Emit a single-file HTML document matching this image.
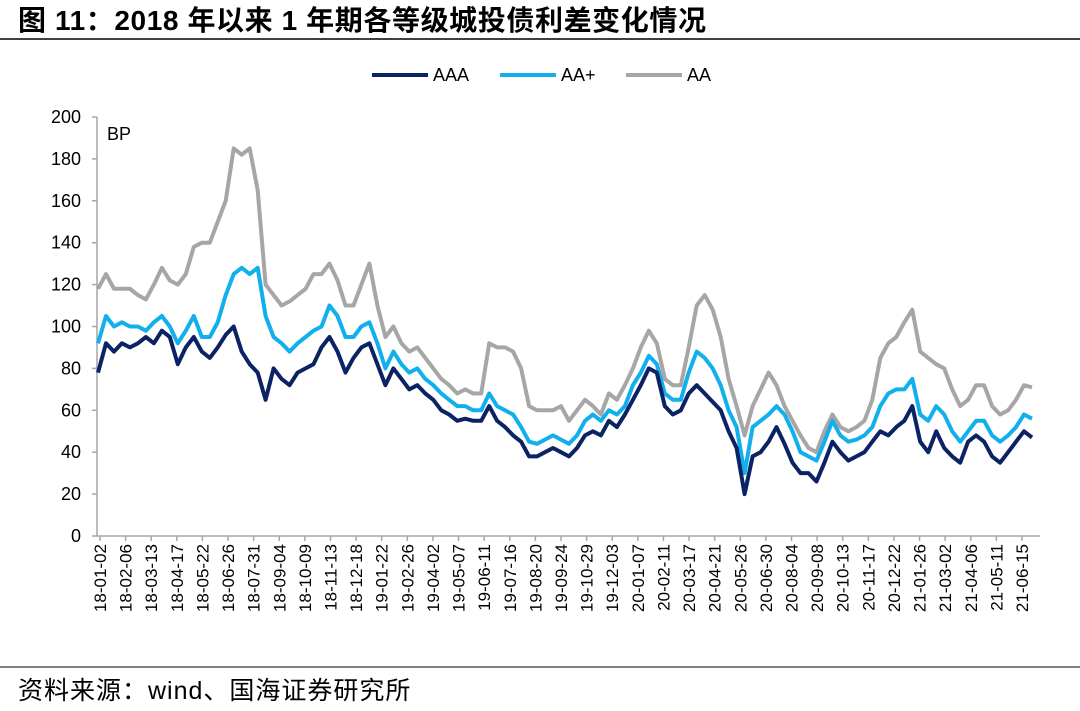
<!DOCTYPE html>
<html><head><meta charset="utf-8">
<style>
body{margin:0;background:#fff;}
svg text{font-family:"Liberation Sans","Noto Sans CJK SC",sans-serif;}
</style></head>
<body>
<svg width="1080" height="706" viewBox="0 0 1080 706">
<text x="18" y="30" font-size="28" font-weight="bold" letter-spacing="0.6">图 11：2018 年以来 1 年期各等级城投债利差变化情况</text>
<line x1="0" y1="39" x2="1080" y2="39" stroke="#000" stroke-width="1.5"/>
<g>
<g><line x1="372" y1="75" x2="428" y2="75" stroke="#0b2265" stroke-width="4"/><text x="433" y="81" font-size="18">AAA</text></g>
<g><line x1="500" y1="75" x2="556" y2="75" stroke="#11b0ec" stroke-width="4"/><text x="561" y="81" font-size="18">AA+</text></g>
<g><line x1="626" y1="75" x2="682" y2="75" stroke="#a6a6a6" stroke-width="4"/><text x="687" y="81" font-size="18">AA</text></g>
</g>
<g id="axes"></g>
<g id="series"></g>
<text x="107" y="140" font-size="18">BP</text>
<line x1="0" y1="667" x2="1080" y2="667" stroke="#000" stroke-width="1"/>
<text x="18" y="699" font-size="25" letter-spacing="1">资料来源：wind、国海证券研究所</text>
</svg>
<script>
const yTicks=[0,20,40,60,80,100,120,140,160,180,200];
const xLabels=["18-01-02","18-02-06","18-03-13","18-04-17","18-05-22","18-06-26","18-07-31","18-09-04","18-10-09","18-11-13","18-12-18","19-01-22","19-02-26","19-04-02","19-05-07","19-06-11","19-07-16","19-08-20","19-09-24","19-10-29","19-12-03","20-01-07","20-02-11","20-03-17","20-04-21","20-05-26","20-06-30","20-08-04","20-09-08","20-10-13","20-11-17","20-12-22","21-01-26","21-03-02","21-04-06","21-05-11","21-06-15"];
const aaa=[78,92,88,92,90,92,95,92,98,95,82,90,95,88,85,90,96,100,88,82,78,65,80,75,72,78,80,82,90,95,88,78,85,90,92,82,72,80,75,70,72,68,65,60,58,55,56,55,55,62,55,52,48,45,38,38,40,42,40,38,42,48,50,48,55,52,58,65,72,80,78,62,58,60,68,72,68,64,60,50,42,20,38,40,45,52,44,35,30,30,26,35,45,40,36,38,40,45,50,48,52,55,62,45,40,50,42,38,35,45,48,45,38,35,40,45,50,47];
const aaPlus=[92,105,100,102,100,100,98,102,105,100,92,98,105,95,95,102,115,125,128,125,128,105,95,92,88,92,95,98,100,110,105,95,95,100,102,92,80,88,82,78,80,75,72,68,65,62,62,60,60,68,62,60,58,52,45,44,46,48,46,44,48,55,58,55,60,58,62,72,78,86,82,68,65,65,78,88,85,80,72,60,52,30,52,55,58,62,58,50,40,38,36,45,55,48,45,46,48,52,62,68,70,70,75,58,55,62,58,50,45,50,55,55,48,45,48,52,58,56];
const aa=[118,125,118,118,118,115,113,120,128,122,120,125,138,140,140,150,160,185,182,185,165,120,115,110,112,115,118,125,125,130,122,110,110,120,130,110,95,100,92,88,90,85,80,75,72,68,70,68,68,92,90,90,88,80,62,60,60,60,62,55,60,65,62,58,68,65,72,80,90,98,92,75,72,72,90,110,115,108,95,75,62,48,62,70,78,72,62,55,48,42,40,50,58,52,50,52,55,65,85,92,95,102,108,88,85,82,80,70,62,65,72,72,62,58,60,65,72,71];
const NS="http://www.w3.org/2000/svg";
const X0=98,X1=1032,Y0=536,Y1=117,L0=100,L1=1022;
const yS=v=>Y0-(v-0)/(200-0)*(Y0-Y1);
const xS=(i,n)=>X0+i/(n-1)*(X1-X0);
const axes=document.getElementById('axes');
function mk(tag,attrs,parent){const e=document.createElementNS(NS,tag);for(const k in attrs)e.setAttribute(k,attrs[k]);parent.appendChild(e);return e;}
let yl=mk('line',{x1:97,y1:Y1,x2:97,y2:Y0,stroke:'#a6a6a6','stroke-width':1.5},axes);


let xl=mk('line',{x1:97,y1:Y0,x2:1040,y2:Y0,stroke:'#a6a6a6','stroke-width':1.5},axes);


yTicks.forEach(v=>{
  const t=mk('line',{x1:92,y1:yS(v),x2:97,y2:yS(v),stroke:'#a6a6a6','stroke-width':1.5},axes);
  
  
  const tx=mk('text',{x:81,y:yS(v)+6,'font-size':18,'text-anchor':'end'},axes);
  tx.textContent=v;
  
  
});
xLabels.forEach((s,i)=>{
  const x=L0+i/(xLabels.length-1)*(L1-L0);
  const t=mk('line',{x1:x,y1:Y0,x2:x,y2:Y0+5,stroke:'#a6a6a6','stroke-width':1.5},axes);
  
  
  const tx=mk('text',{x:0,y:0,'font-size':17,'text-anchor':'end',transform:`translate(${x+6},${Y0+8}) rotate(-90)`},axes);
  tx.textContent=s;
  
  
});
const ser=document.getElementById('series');
[[aa,'#a6a6a6','series-aa'],[aaPlus,'#11b0ec','series-aaplus'],[aaa,'#0b2265','series-aaa']].forEach(([d,c,n])=>{
  const pts=d.map((v,i)=>xS(i,d.length).toFixed(1)+','+yS(v).toFixed(1)).join(' ');
  const p=mk('polyline',{points:pts,fill:'none',stroke:c,'stroke-width':4,'stroke-linejoin':'round'},ser);
  
  
});
</script>
</body></html>
